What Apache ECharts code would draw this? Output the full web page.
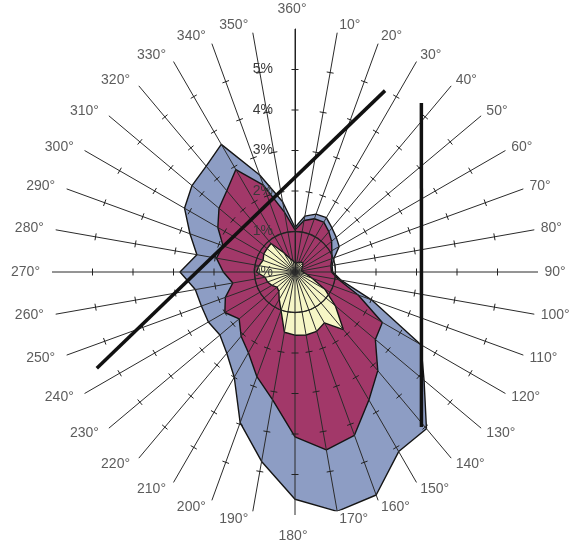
<!DOCTYPE html>
<html>
<head>
<meta charset="utf-8">
<script src="https://cdn.jsdelivr.net/npm/echarts@6/dist/echarts.min.js"></script>
<style>
  html, body { margin: 0; padding: 0; background: #ffffff; }
  #chart { width: 569px; height: 550px; }
</style>
</head>
<body>
<div id="chart"></div>
<script>
// Compass directions (degrees), one spoke every 10°
const directions = [0, 10, 20, 30, 40, 50, 60, 70, 80, 90, 100, 110,
  120, 130, 140, 150, 160, 170, 180, 190, 200, 210, 220, 230,
  240, 250, 260, 270, 280, 290, 300, 310, 320, 330, 340, 350];

// Cumulative frequency (%) per direction for each band, outermost first
const outerPct = [1.10, 1.40, 1.52, 1.55, 1.42, 1.33, 1.26, 1.03, 0.93, 0.93, 1.15, 2.01,
  3.59, 4.16, 5.05, 5.12, 5.86, 6.00, 5.61, 4.75, 3.96, 3.00, 2.62, 2.42,
  2.47, 2.46, 2.50, 2.84, 2.46, 2.76, 3.15, 3.32, 3.41, 3.64, 2.55, 1.76];

const middlePct = [1.04, 1.29, 1.40, 1.42, 1.30, 1.18, 1.05, 0.97, 0.90, 0.90, 1.10, 1.66,
  2.49, 2.59, 3.18, 3.65, 4.29, 4.46, 4.07, 3.20, 2.75, 2.30, 2.07, 1.80,
  2.00, 1.83, 1.56, 1.77, 1.97, 1.89, 2.20, 2.45, 2.62, 2.92, 2.28, 1.50];

const innerPct = [0.22, 0.22, 0.25, 0.28, 0.30, 0.25, 0.20, 0.16, 0.16, 0.20, 0.28, 0.45,
  0.85, 1.30, 1.86, 1.45, 1.56, 1.58, 1.56, 1.51, 1.01, 0.78, 0.62, 0.58,
  0.66, 0.72, 0.75, 0.95, 0.90, 0.84, 0.89, 0.90, 0.92, 0.55, 0.35, 0.28];

// Radial scale (%)
const radiusMax = 6;
const radiusTicks = [1, 2, 3, 4, 5];

// Direction labels, one per spoke
const directionLabels = directions.map(d => (d === 0 ? 360 : d) + '°');

// Two straight guide lines, endpoints as [radius %, direction °]
const guideA = [[5.44, 244.1], [5.00, 26.4]];
const guideB = [[5.21, 36.8], [4.94, 140.8]];

// Close each band into a ring (last point returns to 360°)
function ring(values) {
  const pts = directions.map((d, i) => [values[i], d]);
  pts.push([values[0], 360]);
  return pts;
}

// Tick marks across every spoke at each whole percent
const spokeTicks = [];
directions.forEach(d => radiusTicks.forEach(r => spokeTicks.push([r, d])));

// Direction labels sit just beyond the end of each spoke
const labelPoints = directions.map((d, i) => {
  const a = d * Math.PI / 180;
  const s = Math.sin(a), c = Math.cos(a);
  let align, offset;
  if (d === 0) { align = 'center'; offset = [-3, -20]; }
  else if (d === 180) { align = 'center'; offset = [-2, 21]; }
  else if (s > 0) { align = 'left'; offset = [1 + 5.5 * s, -7.5 * c]; }
  else { align = 'right'; offset = [-(3 + 9 * Math.abs(s)), -7.5 * c]; }
  return {
    value: [radiusMax, d],
    label: { formatter: directionLabels[i], align: align, verticalAlign: 'middle', offset: offset }
  };
});

const FONT = 'Liberation Sans, Arial, sans-serif';

function band(name, values, color) {
  return {
    name: name,
    type: 'line',
    coordinateSystem: 'polar',
    data: ring(values),
    symbol: 'none',
    smooth: false,
    silent: true,
    z: 2,
    lineStyle: { color: '#151515', width: 1.4 },
    areaStyle: { color: color, opacity: 1 }
  };
}

function guide(points) {
  return {
    type: 'line',
    coordinateSystem: 'polar',
    data: points,
    symbol: 'none',
    silent: true,
    clip: false,
    z: 8,
    lineStyle: { color: '#111111', width: 3.5, cap: 'butt' }
  };
}

const chart = echarts.init(document.getElementById('chart'), null, { renderer: 'canvas' });

chart.setOption({
  animation: false,
  backgroundColor: '#ffffff',
  polar: { center: [295, 272], radius: 243 },
  angleAxis: {
    type: 'value',
    min: 0,
    max: 360,
    interval: 10,
    startAngle: 90,
    clockwise: true,
    z: 3,
    axisLine: { show: false },
    axisTick: { show: false },
    splitLine: { show: true, lineStyle: { color: '#2b2b2b', width: 1 } },
    axisLabel: { show: false }
  },
  radiusAxis: {
    type: 'value',
    min: 0,
    max: radiusMax,
    interval: 1,
    z: 4,
    axisLine: { show: true, lineStyle: { color: '#222222', width: 1 } },
    axisTick: { show: false },
    splitLine: {
      show: true,
      lineStyle: {
        width: 1.3,
        color: ['rgba(0,0,0,0)', '#2b2b2b', 'rgba(0,0,0,0)', 'rgba(0,0,0,0)',
                'rgba(0,0,0,0)', 'rgba(0,0,0,0)', 'rgba(0,0,0,0)']
      }
    },
    axisLabel: {
      margin: 22,
      fontSize: 14,
      fontFamily: FONT,
      color: '#3a3a3a',
      formatter: v => (v < radiusMax ? v + '%' : '')
    }
  },
  series: [
    band('outer', outerPct, '#8d9dc4'),
    band('middle', middlePct, '#a23869'),
    band('inner', innerPct, '#f6f6c6'),
    {
      type: 'custom',
      coordinateSystem: 'polar',
      silent: true,
      z: 6,
      data: spokeTicks,
      renderItem: function (params, api) {
        const p = api.coord([api.value(0), api.value(1)]);
        const c = api.coord([0, 0]);
        let dx = p[0] - c[0], dy = p[1] - c[1];
        const len = Math.hypot(dx, dy) || 1;
        dx /= len; dy /= len;
        const h = 3.5;
        return {
          type: 'line',
          shape: { x1: p[0] - dy * h, y1: p[1] + dx * h, x2: p[0] + dy * h, y2: p[1] - dx * h },
          style: { stroke: '#222222', lineWidth: 1 }
        };
      }
    },
    guide(guideA),
    guide(guideB),
    {
      type: 'scatter',
      coordinateSystem: 'polar',
      silent: true,
      symbolSize: 0,
      z: 9,
      data: labelPoints,
      label: {
        show: true,
        position: 'inside',
        fontSize: 14,
        fontFamily: FONT,
        color: '#333333'
      }
    }
  ]
});
</script>
</body>
</html>
